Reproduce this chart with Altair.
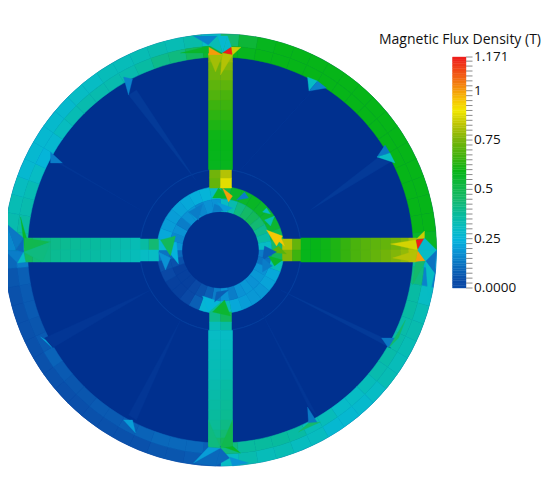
import altair as alt

# ---- colour table ----------------------------------------------------------
cmap_values = [0, 0.03, 0.1, 0.18, 0.24, 0.3, 0.37, 0.45, 0.52, 0.59, 0.66, 0.75, 0.83, 0.9, 0.96, 1.0, 1.08, 1.171]
cmap_colors = ["#00308f", "#0a48a5", "#0a68bb", "#0a92d4", "#05b3dc", "#07bcc4", "#08bb9e", "#14b96c", "#10b744",
               "#06b518", "#3db30e", "#78b40a", "#bcc404", "#f2e800", "#f7c006", "#f59c0a", "#f25a14", "#ee1c1c"]
bar_labels = ["0.0000", "0.25", "0.5", "0.75", "1", "1.171"]
bar_label_values = [0, 0.25, 0.5, 0.75, 1, 1.171]
legend_title = "Magnetic Flux Density (T)"

# ---- geometry (radii and half width of the rotor parts) --------------------
R_outer = 216
R_mid = 204
R_inner = 193
R_hub = 63.5
R_hub_mid = 51
R_hole = 38
R_thin = 80.5
half = 12

# ---- back iron ring, 5 degree cells clockwise from the top -----------------
ring_outer = [.45,.54,.58,.59,.59,.59,.59,.59,.59,.59,.59,.59,.59,.59,.59,.59,.59,.57,
              .22,.15,.30,.33,.34,.33,.32,.33,.30,.28,.27,.27,.31,.31,.33,.32,.34,.30,
              .07,.07,.06,.06,.05,.05,.05,.05,.045,.045,.05,.05,.05,.05,.05,.05,.06,.10,
              .30,.34,.33,.31,.27,.27,.27,.28,.28,.30,.30,.32,.32,.33,.34,.33,.35,.30]
ring_inner = [.60,.58,.59,.59,.59,.59,.59,.59,.59,.59,.59,.59,.59,.59,.59,.59,.59,.56,
              .38,.42,.36,.36,.35,.35,.35,.34,.32,.30,.29,.32,.32,.36,.37,.37,.37,.42,
              .08,.10,.10,.10,.09,.08,.07,.07,.06,.06,.07,.09,.07,.06,.07,.07,.08,.14,
              .38,.36,.34,.33,.30,.25,.27,.31,.33,.34,.34,.34,.34,.36,.40,.42,.48,.55]

# ---- hub ring, 10 degree cells clockwise from the top ----------------------
hub_outer = [.52,.56,.56,.57,.56,.55,.55,.50,.45,
             .48,.32,.22,.21,.19,.19,.20,.22,.32,
             .38,.26,.08,.03,.02,.02,.03,.05,.12,
             .28,.22,.20,.20,.21,.22,.23,.25,.30]
hub_inner = [.30,.34,.42,.46,.48,.44,.40,.36,.30,
             .14,.12,.18,.19,.18,.19,.18,.14,.18,
             .14,.08,.05,.03,.02,.02,.02,.05,.10,
             .18,.16,.18,.14,.18,.19,.16,.18,.18]

# ---- spokes: radial edges, then values in two columns ----------------------
spoke_edges = [62, 72, 80.5, 90, 100, 110, 120, 130, 140, 150, 160, 170, 180, 188, 196]
top_a = [.72, .74, .58, .585, .59, .60, .62, .64, .66, .69, .71, .73, .74, .76]
top_b = [.88, .82, .58, .585, .59, .60, .62, .64, .66, .68, .71, .74, .76, .78]
right_a = [.82, .72, .585, .59, .60, .62, .65, .68, .70, .71, .72, .74, .76, .80]
right_b = [.76, .66, .585, .59, .60, .62, .65, .68, .70, .72, .74, .76, .78, .82]
left_a = [.44, .36, .33, .34, .35, .36, .37, .375, .38, .39, .40, .41, .43, .46]
left_b = [.30, .30, .32, .33, .34, .35, .36, .365, .37, .38, .39, .41, .43, .47]
bottom_a = [.40, .32, .30, .31, .32, .325, .33, .34, .35, .36, .37, .38, .40, .44]
bottom_b = [.48, .36, .30, .31, .32, .33, .34, .36, .37, .38, .39, .41, .44, .48]

# ---- mesh detail: triangles (x1, y1, x2, y2, x3, y3, value), y upward ------
triangles = [
    # faint flux rays in the rotor
    (88, 155, 97, 165, 20, 80, .012), (157, 92, 170, 88, 90, 40, .012),
    (-92, 155, -84, 160, -25, 70, .012), (-168, 90, -158, 86, -80, 40, .008),
    (163, -88, 170, -98, 60, -40, .012), (88, -157, 96, -165, 40, -60, .008),
    (-168, -98, -176, -88, -70, -40, .008), (-92, -165, -84, -170, -40, -70, .008),
    # top junction
    (-27, 214, -3, 214, -12, 205, .15), (-3, 214, 7, 214, 2, 197, .27), (-3, 214, -12, 205, 2, 197, .33),
    (7, 214, 11, 203, 2, 197, .28), (11, 203, 12, 195, 2, 197, 1.171), (12, 195, 11, 203, 20.5, 202.7, .85),
    (-12, 203, 2, 195, -12, 195, 1.0), (-40, 197, -12, 204, -12, 197, .56), (2, 197, 12, 195, 0, 175, .82),
    (-12, 195, 2, 195, -5, 178, .8),
    # right junction
    (195.5, 10, 204, 11.7, 197, 0, 1.171), (196, 11, 204, 19, 204, 11.7, .85), (204, 12, 216, 0, 197, 0, .28),
    (216, 0, 214, -23, 205, -11, .12), (197, 0, 205, -11, 195, -12, 1.0), (197, 0, 216, 0, 205, -11, .3),
    (205, -11, 214, -23, 208, -50, .3), (195, -12, 205, -11, 192, -35, .45), (195, 10, 197, 0, 170, 6, .86),
    (195, -12, 197, 0, 172, -8, .82),
    # left junction
    (-215, 27, -197, 12, -205, 0, .13), (-216, 0, -215, 27, -205, 0, .16), (-200, 33, -194, 12, -196, 2, .56),
    (-216, 0, -197, -2, -203, -13, .14), (-197, -2, -195, -12, -203, -13, .3), (-205, 0, -197, 12, -197, -2, .1),
    (-196, 12, -196, -2, -170, 8, .5), (-197, -2, -170, 8, -178, -12, .42),
    # bottom junction
    (0, -198, 9, -208, -5, -216, .1), (3, -197, 12, -196, 20, -203, .56), (9, -207, 28, -213, 12, -216, .18),
    (-27, -213, 0, -198, -5, -216, .1), (-12, -197, 0, -198, -27, -213, .2), (-12, -197, 0, -198, -12, -170, .42),
    (12, -196, 0, -198, 12, -170, .5),
    # notches in the inner edge of the ring
    (87, 173, 97, 169, 88.5, 159, .3), (97, 169, 106, 162, 88.5, 159, .15),
    (164.5, 105, 169.5, 97, 156.5, 93, .13), (156.5, 93, 169.5, 97, 174.5, 87, .3),
    (-97, 173, -88, 171, -92, 155, .15), (-170, 98, -158, 87, -170, 87, .14),
    (-180, -87, -168, -98, -175, -90, .22), (-97, -170, -88, -170, -85, -183, .2),
    (161, -88, 175, -88, 168, -98, .13), (87, -157, 97, -173, 88, -173, .13),
    (168, -98, 178, -88, 185, -70, .45), (88, -173, 100, -172, 78, -182, .45),
    # texture in the hub
    (-2, 62, 8, 52, -8, 52, .56), (2, 62, 12, 54, 8, 48, 1.0), (-6, 46, 8, 40, -8, 38, .14),
    (-4, 48, 4, 38, 12, 42, .2), (46, 20, 62, 14, 56, 4, .95), (58, 4, 66, -4, 50, -2, .7),
    (44, 4, 56, -2, 42, -10, .08), (48, -6, 62, -10, 54, -16, .56), (42, -8, 52, -16, 42, -22, .14),
    (44, 30, 54, 34, 50, 24, .33), (60, 14, 64, 4, 54, 12, .95),
    (-8, -62, 10, -66, 4, -50, .55), (-12, -62, 0, -52, -18, -46, .25), (-4, -42, 8, -40, -6, -52, .08),
    (-58, 6, -44, 8, -42, -14, .24), (-60, 10, -45, 14, -50, -6, .48), (-62, -2, -50, -8, -55, -20, .18),
    (-32, 38, -18, 46, -22, 30, .14), (16, 50, 28, 52, 24, 58, .14), (42, 38, 50, 36, 46, 42, .3),
]

# ---- colour bar tick marks, and the levels of the bar ----------------------
bar_ticks = [0, .025, .05, .075, .1, .125, .15, .175, .2, .225, .25, .275, .3, .325, .35, .375, .4, .425, .45, .475,
             .5, .525, .55, .575, .6, .625, .65, .675, .7, .725, .75, .775, .8, .825, .85, .875, .9, .925, .95, .975,
             1, 1.025, 1.05, 1.075, 1.1, 1.125, 1.15, 1.171]
bar_edges = [b for a in zip(bar_ticks[:-1], [(p + q) / 2 for p, q in zip(bar_ticks[:-1], bar_ticks[1:])]) for b in a] + [1.171]

# ---- tables built from the arrays above ---------------------------------------
def cells(values, step, r0, r1):
    return [{"t0": i * step, "t1": (i + 1) * step, "r0": r0, "r1": r1, "v": v} for i, v in enumerate(values)]

arc_rows = (cells(hub_outer, 10, R_hub_mid, R_hub) + cells(hub_inner, 10, R_hole, R_hub_mid)
            + cells(ring_outer, 5, R_mid, R_outer) + cells(ring_inner, 5, R_inner, R_mid))

rect_rows = []
for i in range(len(top_a)):
    e0, e1 = spoke_edges[i], spoke_edges[i + 1]
    w = half if e0 >= R_thin else half - 1
    rect_rows += [
        {"x0": -w, "x1": 0, "y0": e0, "y1": e1, "v": top_a[i]}, {"x0": 0, "x1": w, "y0": e0, "y1": e1, "v": top_b[i]},
        {"x0": e0, "x1": e1, "y0": 0, "y1": w, "v": right_a[i]}, {"x0": e0, "x1": e1, "y0": -w, "y1": 0, "v": right_b[i]},
        {"x0": -e1, "x1": -e0, "y0": 0, "y1": w, "v": left_a[i]}, {"x0": -e1, "x1": -e0, "y0": -w, "y1": 0, "v": left_b[i]},
        {"x0": -w, "x1": 0, "y0": -e1, "y1": -e0, "v": bottom_a[i]}, {"x0": 0, "x1": w, "y0": -e1, "y1": -e0, "v": bottom_b[i]},
    ]

tri_features = [{"type": "Feature", "properties": {"v": t[6]},
                 "geometry": {"type": "Polygon", "coordinates": [[[t[0], t[1]], [t[2], t[3]], [t[4], t[5]], [t[0], t[1]]]]}}
                for t in triangles]

bar_rows = [{"b0": p, "b1": q, "v": max(0.035, (p + q) / 2)} for p, q in zip(bar_edges[:-1], bar_edges[1:])]

# ---- scales: one unit is one pixel, origin at the rotor centre --------------
W, H = 534, 463
cx, cy = 212.5, 242
sx = alt.Scale(domain=[-cx, W - cx], range=[0, W])
sy = alt.Scale(domain=[cy - H, cy], range=[H, 0])
sb = alt.Scale(domain=[0, 1.171], range=[280, 49])
st = alt.Scale(domain=[0, 360], range=[0, 6.283185])
sr = alt.Scale(type="linear", domain=[0, 300], range=[0, 300])
sc = alt.Scale(domain=cmap_values, range=cmap_colors, interpolate="rgb")
col = alt.Color("v:Q", scale=sc, legend=None)
edge = alt.Stroke("v:Q", scale=sc, legend=None)
x0 = alt.X(datum=0, scale=sx, axis=None)
y0 = alt.Y(datum=0, scale=sy, axis=None)

def arcs(rows):
    return alt.Chart(alt.Data(values=rows)).mark_arc(strokeWidth=0.5).encode(
        x=x0, y=y0,
        theta=alt.Theta("t0:Q", scale=st), theta2="t1:Q",
        radius=alt.Radius("r0:Q", scale=sr), radius2="r1:Q",
        color=col, stroke=edge)

disk = arcs([{"t0": 0, "t1": 360, "r0": 0, "r1": R_outer, "v": 0}])
thin = arcs([{"t0": 0, "t1": 360, "r0": R_thin, "r1": R_thin + 0.3, "v": .02}])
parts = arcs(arc_rows)
hole = arcs([{"t0": 0, "t1": 360, "r0": 0, "r1": R_hole, "v": 0}])

spokes = alt.Chart(alt.Data(values=rect_rows)).mark_rect(strokeWidth=0.5).encode(
    x=alt.X("x0:Q", scale=sx, axis=None), x2="x1:Q",
    y=alt.Y("y0:Q", scale=sy, axis=None), y2="y1:Q",
    color=col, stroke=edge)

mesh = alt.Chart(alt.Data(values=tri_features)).mark_geoshape(strokeWidth=0.3).encode(
    color=alt.Color("properties.v:Q", scale=sc, legend=None),
    stroke=alt.Stroke("properties.v:Q", scale=sc, legend=None),
).project(type="identity", reflectY=True, scale=1, translate=[cx, cy])

bar = alt.Chart(alt.Data(values=bar_rows)).mark_rect(strokeWidth=0.4).encode(
    x=alt.X(datum=232, scale=sx, axis=None), x2=alt.X2(datum=245.5),
    y=alt.Y("b0:Q", scale=sb, axis=None), y2="b1:Q",
    color=col, stroke=edge)

ticks = alt.Chart(alt.Data(values=[{"b": b} for b in bar_ticks])).mark_rule(color="#8a8a8a", strokeWidth=1).encode(
    x=alt.X(datum=245.5, scale=sx, axis=None),
    x2=alt.X2(datum=252),
    y=alt.Y("b:Q", scale=sb, axis=None))

bar_text = alt.Chart(alt.Data(values=[{"b": b, "s": s} for b, s in zip(bar_label_values, bar_labels)])).mark_text(
    font="Open Sans", fontSize=13.5, color="#111111", align="left", baseline="middle").encode(
    x=alt.X(datum=253.5, scale=sx, axis=None), y=alt.Y("b:Q", scale=sb, axis=None), text="s:N")

title = alt.Chart(alt.Data(values=[{"s": legend_title}])).mark_text(
    font="Open Sans", fontSize=14, color="#111111", align="right", baseline="middle").encode(
    x=alt.X(datum=320.5, scale=sx, axis=None), y=alt.Y(datum=210, scale=sy, axis=None), text="s:N")

chart = alt.layer(disk, parts, thin, hole, spokes, mesh, bar, ticks, bar_text, title).resolve_scale(y="independent").properties(
    width=W, height=H, padding=0, autosize=alt.AutoSizeParams(type="none")
).configure_view(stroke=None)

chart.save("out.html", embed_options={"renderer": "svg", "actions": False})
